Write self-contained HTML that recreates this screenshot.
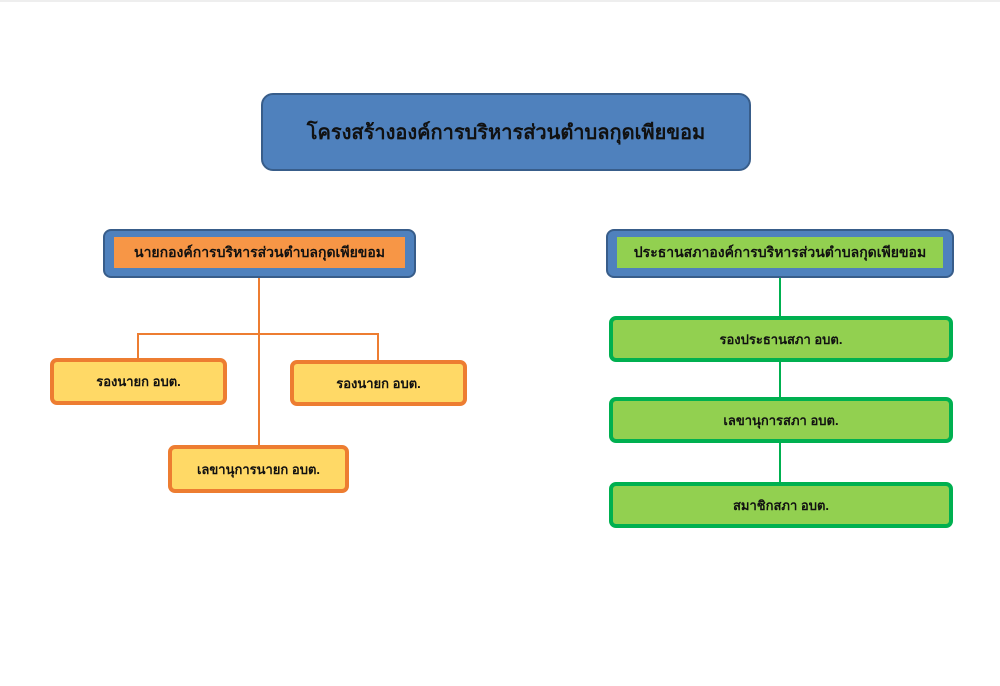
<!DOCTYPE html>
<html><head><meta charset="utf-8"><style>
body{margin:0;width:1000px;height:686px;background:#fff;position:relative;overflow:hidden;font-family:"Liberation Sans","DejaVu Sans",sans-serif;}
div{position:absolute;box-sizing:border-box;}
.t{display:flex;align-items:center;justify-content:center;color:#111;font-weight:bold;white-space:nowrap;}
.y{background:#ffd966;border:4px solid #ed7d31;border-radius:7px;font-size:13px;}
.g{background:#92d050;border:4px solid #00b050;border-radius:7px;font-size:13px;}
.lo{background:#ed7d31;}
.lg{background:#00b050;}
</style></head><body>
<div style="left:0;top:0;width:1000px;height:2px;background:#eee"></div>
<div class="t" style="left:261px;top:93px;width:490px;height:78px;background:#4f81bd;border:2px solid #385d8a;border-radius:12px;font-size:20px;">โครงสร้างองค์การบริหารส่วนตำบลกุดเพียขอม</div>

<div style="left:103px;top:229px;width:313px;height:49px;background:#4f81bd;border:2px solid #385d8a;border-radius:8px;"></div>
<div class="t" style="left:114px;top:237px;width:291px;height:31px;background:#f79646;font-size:14px;">นายกองค์การบริหารส่วนตำบลกุดเพียขอม</div>

<div style="left:606px;top:229px;width:348px;height:49px;background:#4f81bd;border:2px solid #385d8a;border-radius:8px;"></div>
<div class="t" style="left:617px;top:237px;width:326px;height:31px;background:#92d050;font-size:14px;">ประธานสภาองค์การบริหารส่วนตำบลกุดเพียขอม</div>

<div class="lo" style="left:258px;top:278px;width:2px;height:169px"></div>
<div class="lo" style="left:138px;top:333px;width:241px;height:2px"></div>
<div class="lo" style="left:137px;top:333px;width:2px;height:26px"></div>
<div class="lo" style="left:377px;top:333px;width:2px;height:28px"></div>

<div class="t y" style="left:50px;top:358px;width:177px;height:47px;">รองนายก อบต.</div>
<div class="t y" style="left:290px;top:360px;width:177px;height:46px;">รองนายก อบต.</div>
<div class="t y" style="left:168px;top:445px;width:181px;height:48px;">เลขานุการนายก อบต.</div>

<div class="lg" style="left:779px;top:278px;width:2px;height:205px"></div>
<div class="t g" style="left:609px;top:316px;width:344px;height:46px;">รองประธานสภา อบต.</div>
<div class="t g" style="left:609px;top:397px;width:344px;height:46px;">เลขานุการสภา อบต.</div>
<div class="t g" style="left:609px;top:482px;width:344px;height:46px;">สมาชิกสภา อบต.</div>
</body></html>
